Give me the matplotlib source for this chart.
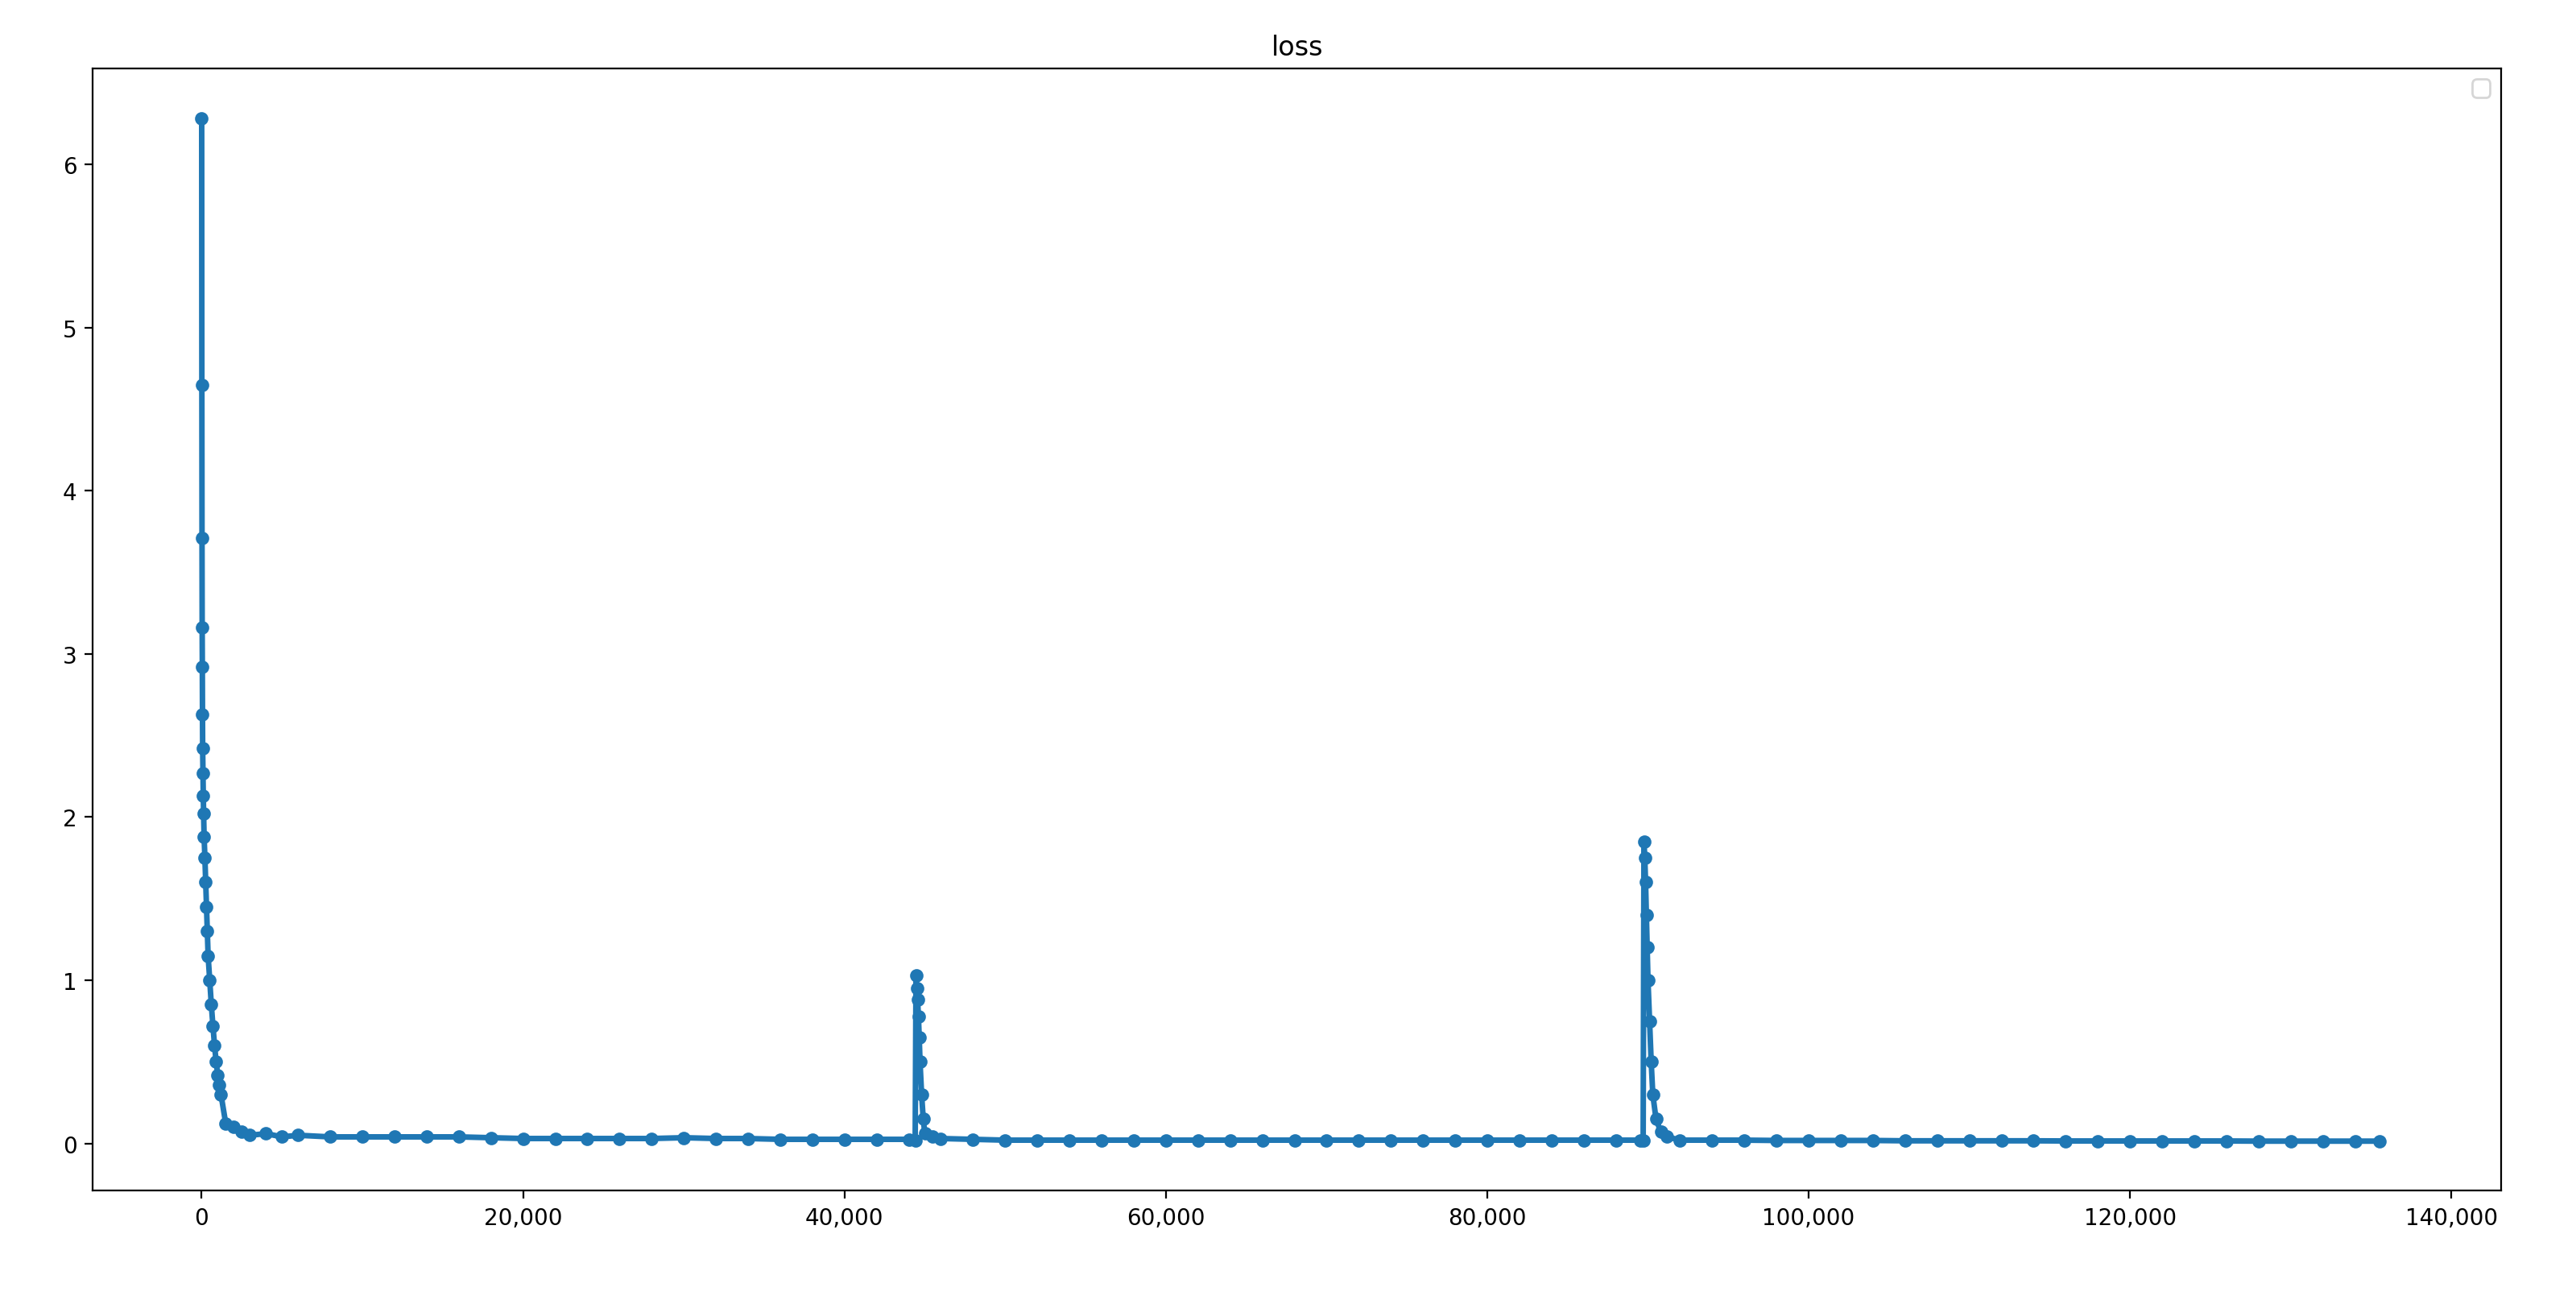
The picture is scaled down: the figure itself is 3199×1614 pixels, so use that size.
import matplotlib
matplotlib.use('Agg')
import matplotlib.pyplot as plt
from matplotlib.ticker import FuncFormatter

# 初期の急降下
start_x = [0, 10, 20, 30, 40, 50, 60, 80, 100, 120, 150, 200, 250, 300, 350, 400, 500,
           600, 700, 800, 900, 1000, 1100, 1200, 1500, 2000, 2500, 3000, 4000, 5000]
start_y = [6.28, 4.65, 3.71, 3.16, 2.92, 2.63, 2.42, 2.27, 2.13, 2.02, 1.88, 1.75, 1.6,
           1.45, 1.3, 1.15, 1.0, 0.85, 0.72, 0.6, 0.5, 0.42, 0.36, 0.3, 0.12, 0.1, 0.07,
           0.05, 0.06, 0.04]

base1_x = [6000, 8000, 10000, 12000, 14000, 16000, 18000, 20000, 22000, 24000, 26000,
           28000, 30000, 32000, 34000, 36000, 38000, 40000, 42000, 44000]
base1_y = [0.05, 0.04, 0.04, 0.04, 0.04, 0.04, 0.035, 0.03, 0.03, 0.03, 0.03, 0.03,
           0.035, 0.03, 0.03, 0.025, 0.025, 0.025, 0.025, 0.025]

spike1_x = [44400, 44450, 44500, 44550, 44600, 44650, 44700, 44800, 44900, 45000, 45500, 46000]
spike1_y = [0.02, 1.03, 0.95, 0.88, 0.78, 0.65, 0.5, 0.3, 0.15, 0.06, 0.04, 0.03]

base2_x = [48000, 50000, 52000, 54000, 56000, 58000, 60000, 62000, 64000, 66000, 68000,
           70000, 72000, 74000, 76000, 78000, 80000, 82000, 84000, 86000, 88000, 89500]
base2_y = [0.025, 0.02, 0.02, 0.02, 0.02, 0.02, 0.02, 0.02, 0.02, 0.02, 0.02, 0.02,
           0.02, 0.02, 0.02, 0.02, 0.02, 0.02, 0.02, 0.02, 0.02, 0.02]

spike2_x = [89700, 89750, 89800, 89850, 89900, 89950, 90000, 90100, 90200, 90300, 90500,
            90800, 91200, 92000]
spike2_y = [0.02, 1.85, 1.75, 1.6, 1.4, 1.2, 1.0, 0.75, 0.5, 0.3, 0.15, 0.07, 0.04, 0.02]

base3_x = [94000, 96000, 98000, 100000, 102000, 104000, 106000, 108000, 110000, 112000,
           114000, 116000, 118000, 120000, 122000, 124000, 126000, 128000, 130000, 132000,
           134000, 135500]
base3_y = [0.02, 0.02, 0.018, 0.018, 0.018, 0.018, 0.016, 0.016, 0.016, 0.016, 0.016,
           0.015, 0.015, 0.015, 0.015, 0.015, 0.015, 0.014, 0.014, 0.014, 0.014, 0.014]

steps = start_x + base1_x + spike1_x + base2_x + spike2_x + base3_x
loss = start_y + base1_y + spike1_y + base2_y + spike2_y + base3_y

fig = plt.figure(figsize=(15.995, 8.075), dpi=200)
ax = fig.add_axes([0.036, 0.084, 0.935, 0.863])
ax.plot(steps, loss, color='#1f77b4', marker='o', markersize=5, linewidth=2.5)
ax.set_xlim(-6780, 143100)
ax.set_ylim(-0.29, 6.59)
ax.set_xticks([0, 20000, 40000, 60000, 80000, 100000, 120000, 140000])
ax.xaxis.set_major_formatter(FuncFormatter(lambda v, p: '{:,.0f}'.format(v)))
ax.tick_params(labelsize=10)
ax.set_title('loss', fontsize=12)
ax.legend(handles=[], loc='upper right')

fig.savefig('out.png')
